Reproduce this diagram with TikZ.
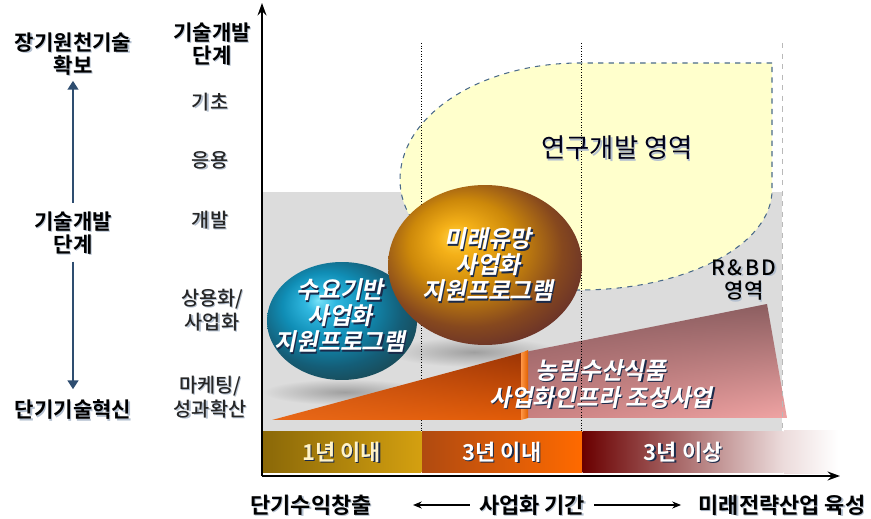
\documentclass[tikz,border=0pt]{standalone}
\usepackage{fontspec}
\setmainfont{Noto Sans CJK KR}[BoldFont={Noto Sans CJK KR Bold}]
\newfontfamily\slantkr{Noto Sans CJK KR}[FakeSlant=0.2,BoldFont={Noto Sans CJK KR Bold}]
\newfontfamily\mediumkr{Noto Sans CJK KR Medium}
\usepackage{xcolor}
\usetikzlibrary{shapes,arrows,positioning,calc,arrows.meta,shadings}

\definecolor{bggray}{HTML}{DCDCDC}
\definecolor{lemon}{HTML}{FFFFCC}
\definecolor{rimblue}{HTML}{4A6A8A}
\definecolor{arrowblue}{HTML}{2E4D70}
\definecolor{navyshade}{HTML}{1A2A4A}
\definecolor{softshade}{HTML}{B4C0D0}
% sphere colours
\definecolor{goldA}{HTML}{FFD040}
\definecolor{goldB}{HTML}{F4B018}
\definecolor{goldC}{HTML}{CC880A}
\definecolor{goldD}{HTML}{86481E}
\definecolor{goldE}{HTML}{5A2630}
\definecolor{blueA}{HTML}{78E2F8}
\definecolor{blueB}{HTML}{30B8E0}
\definecolor{blueC}{HTML}{108EB6}
\definecolor{blueD}{HTML}{145E78}
\definecolor{blueE}{HTML}{1C4046}
% wedge, trapezoid and band colours
\definecolor{mauveA}{HTML}{8A5C60}
\definecolor{mauveB}{HTML}{8C5E60}
\definecolor{pinkA}{HTML}{C88080}
\definecolor{pinkB}{HTML}{F0A4A4}
\definecolor{rustA}{HTML}{C85010}
\definecolor{rustB}{HTML}{9C3505}
\definecolor{rustC}{HTML}{E86818}
\definecolor{rustD}{HTML}{E25C08}
\definecolor{faceA}{HTML}{FF9646}
\definecolor{faceB}{HTML}{E06000}
\definecolor{oliveA}{HTML}{8A6808}
\definecolor{oliveB}{HTML}{D4A010}
\definecolor{cream}{HTML}{FFF3C8}
\definecolor{orangeA}{HTML}{B04A10}
\definecolor{orangeB}{HTML}{FF6A00}
\definecolor{maroonA}{HTML}{6A0000}
\definecolor{fadepink}{HTML}{ECDCDC}

\pgfdeclareradialshading{goldsphere}{\pgfpoint{-8bp}{9bp}}{color(0bp)=(goldA); color(5bp)=(goldB); color(14bp)=(goldC); color(24bp)=(goldD); color(34bp)=(goldE); color(50bp)=(goldE)}
\pgfdeclareradialshading{bluesphere}{\pgfpoint{-8bp}{9bp}}{color(0bp)=(blueA); color(5bp)=(blueB); color(14bp)=(blueC); color(24bp)=(blueD); color(34bp)=(blueE); color(50bp)=(blueE)}

% text with a small drop shadow: [style]{shadow colour}{name}{position}{text}
\newcommand{\stext}[5][]{%
  \node[#1, text=#2, xshift=0.7pt, yshift=-0.7pt] (#3-sh) at #4 {#5};
  \node[#1] (#3) at #4 {#5};}

\begin{document}
\begin{tikzpicture}[x=0.02cm, y=-0.02cm, >=Stealth,
    lbl/.style={align=center, inner sep=0pt, font=\bfseries\fontsize{12}{13}\selectfont},
    lvl/.style={align=center, inner sep=0pt, text=black!85, font=\mediumkr\fontsize{11.2}{13.5}\selectfont},
    balltxt/.style={align=center, inner sep=0pt, text=white, font=\slantkr\bfseries\fontsize{13.5}{14.8}\selectfont},
    ballshape/.style={ellipse, inner sep=0pt},
    band/.style={rectangle, inner sep=0pt, minimum height=0.84cm, anchor=west, text=white, font=\bfseries\fontsize{12.5}{13}\selectfont},
    axisline/.style={line width=1.2pt, -{Stealth[length=7pt,width=5pt]}},
    trend/.style={draw=arrowblue, line width=1.5pt, -{Triangle[length=5pt,width=6pt]}},
    span/.style={line width=0.6pt, -{Stealth[length=5pt,width=4pt]}},
    guide/.style={densely dotted, line width=0.5pt},
  ]
  \useasboundingbox (0,0) rectangle (871,519);

  % R&BD area and research area
  \fill[bggray] (262,192) rectangle (782,431);
  \filldraw[fill=lemon, draw=rimblue, dashed, line width=0.6pt]
    (772,63) -- (580,63) .. controls (481,63) and (400,115) .. (400,180)
    .. controls (400,241) and (481,290) .. (580,290)
    .. controls (686,290) and (772,245) .. (772,190) -- cycle;

  % ground shadows
  \shade[inner color=gray!75, outer color=bggray] (345,392) ellipse [x radius=82, y radius=13];
  \shade[inner color=gray!75, outer color=bggray] (474,352) ellipse [x radius=86, y radius=15];

  \shade[upper left=mauveA, upper right=mauveB, lower left=pinkA, lower right=pinkB]
    (520,353) -- (767,304) -- (787,418) -- (520,418) -- cycle;

  % period guides
  \draw[guide] (421,43) -- (421,431);
  \draw[guide] (581,43) -- (581,431);
  \draw[dashed, gray!55, line width=0.5pt] (782,43) -- (782,473);

  % wedge
  \shade[upper left=rustA, upper right=rustB, lower left=rustC, lower right=rustD]
    (272,420) -- (521,353) -- (521,420) -- cycle;
  \shade[left color=faceA, right color=faceB]
    (521,353) -- (528,350) -- (528,418) -- (521,420) -- cycle;

  % spheres
  \node[ballshape, minimum width=3cm, minimum height=2.36cm, shading=bluesphere] (demand) at (342,321) {};
  \node[ballshape, minimum width=3.88cm, minimum height=3.2cm, shading=goldsphere] (future) at (485,265) {};
  \stext[balltxt]{navyshade}{demandtxt}{(340,316)}{수요기반\\사업화\\지원프로그램}
  \stext[balltxt]{navyshade}{futuretxt}{(488,265)}{미래유망\\사업화\\지원프로그램}
  \stext[balltxt, font=\slantkr\bfseries\fontsize{13.5}{15.5}\selectfont]{navyshade}{infra}{(601,384)}{농림수산식품\\사업화인프라 조성사업}

  \stext[align=center, inner sep=0pt, text=black!90!blue, font=\fontsize{15}{17}\selectfont]{softshade}{rnd}{(617,148)}{연구개발 영역}
  \stext[align=center, inner sep=0pt, font=\mediumkr\fontsize{12}{13.5}\selectfont]{softshade}{rbd}{(744,280)}{\addfontfeature{LetterSpace=12}R\&BD\\영역}

  % period bands
  \node[band, minimum width=3.18cm, left color=oliveA, right color=oliveB] (yr1) at (262,452) {};
  \node[band, minimum width=3.2cm, right=0pt of yr1, left color=orangeA, right color=orangeB] (yr3) {};
  \node[band, minimum width=4.02cm, right=0pt of yr3, left color=maroonA, right color=fadepink] (yr3p) {};
  \shade[left color=fadepink, right color=white] (yr3p.north east) rectangle (838,473);
  \stext[band, anchor=center, text=cream]{navyshade}{yr1txt}{(yr1)}{1년 이내}
  \stext[band, anchor=center]{navyshade}{yr3txt}{(yr3)}{3년 이내}
  \stext[band, anchor=center]{navyshade}{yr3ptxt}{(yr3p)}{3년 이상}

  % axes
  \coordinate (origin) at (262,476);
  \coordinate (ytop) at (262,3);
  \coordinate (xend) at (840,476);
  \draw[axisline] (origin) -- (ytop);
  \draw[axisline] (origin) -- (xend);

  % stage labels on the vertical axis
  \stext[lbl]{softshade}{axtitle}{(212,44)}{기술개발\\단계}
  \stext[lvl]{softshade}{basic}{(210,102)}{기초}
  \stext[lvl]{softshade}{applied}{(210,160)}{응용}
  \stext[lvl]{softshade}{develop}{(210,220)}{개발}
  \stext[lvl]{softshade}{commercial}{(212,310)}{상용화/\\사업화}
  \stext[lvl]{softshade}{marketing}{(210,397)}{마케팅/\\성과확산}

  % left column
  \stext[lbl]{softshade}{longterm}{(73,54)}{장기원천기술\\확보}
  \stext[lbl]{softshade}{stage}{(73,233)}{기술개발\\단계}
  \stext[lbl]{softshade}{shortterm}{(73,410)}{단기기술혁신}
  \draw[trend, shorten <=5pt, shorten >=3pt] (stage.north) -- (longterm.south);
  \draw[trend, shorten <=4pt, shorten >=6pt] (stage.south) -- (shortterm.north);

  % bottom labels
  \stext[lbl, font=\bfseries\fontsize{12.5}{13}\selectfont]{softshade}{quick}{(311,505)}{단기수익창출}
  \stext[lbl, font=\bfseries\fontsize{12.5}{13}\selectfont]{softshade}{period}{(532,505)}{사업화 기간}
  \stext[lbl, font=\bfseries\fontsize{12.5}{13}\selectfont]{softshade}{strategic}{(782,505)}{미래전략산업 육성}
  \coordinate (leftend) at (413,505);
  \coordinate (rightend) at (681,505);
  \draw[span, shorten <=5pt] (period.west) -- (leftend);
  \draw[span, shorten <=5pt] (period.east) -- (rightend);
\end{tikzpicture}
\end{document}
